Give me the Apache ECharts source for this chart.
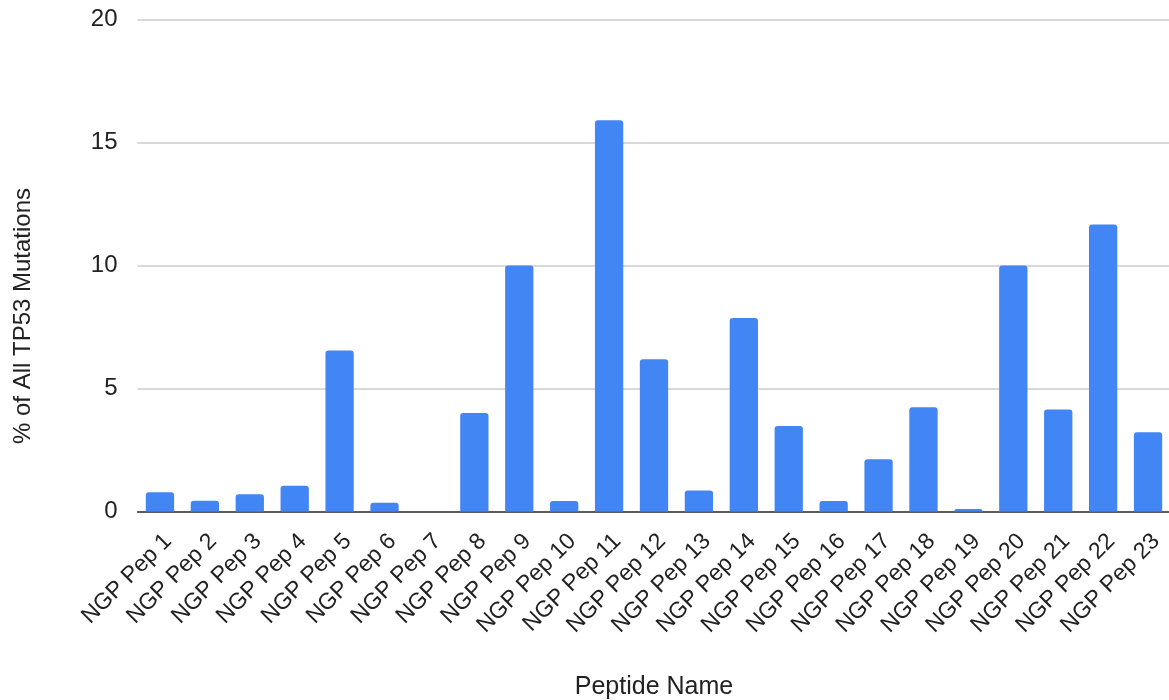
<!DOCTYPE html>
<html>
<head>
<meta charset="utf-8">
<script src="https://cdn.jsdelivr.net/npm/echarts@6/dist/echarts.min.js"></script>
<style>
  html, body { margin: 0; padding: 0; background: #fff; }
  #chart { width: 1169px; height: 700px; }
</style>
</head>
<body>
<div id="chart"></div>
<script>
// Peptide names along the x axis
const peptides = [
  'NGP Pep 1', 'NGP Pep 2', 'NGP Pep 3', 'NGP Pep 4', 'NGP Pep 5', 'NGP Pep 6',
  'NGP Pep 7', 'NGP Pep 8', 'NGP Pep 9', 'NGP Pep 10', 'NGP Pep 11', 'NGP Pep 12',
  'NGP Pep 13', 'NGP Pep 14', 'NGP Pep 15', 'NGP Pep 16', 'NGP Pep 17', 'NGP Pep 18',
  'NGP Pep 19', 'NGP Pep 20', 'NGP Pep 21', 'NGP Pep 22', 'NGP Pep 23'
];

// Share of all TP53 mutations covered by each peptide (%)
const mutationShare = [
  0.78, 0.44, 0.70, 1.05, 6.54, 0.36,
  0.0, 4.0, 10.0, 0.43, 15.9, 6.19,
  0.85, 7.87, 3.48, 0.43, 2.12, 4.24,
  0.1, 10.0, 4.15, 11.67, 3.22
];

// Value axis ticks
const yTicks = [0, 5, 10, 15, 20];

const FONT = '"Liberation Sans", Arial, sans-serif';
const TEXT = '#222';

const chart = echarts.init(document.getElementById('chart'), null, { renderer: 'canvas' });

chart.setOption({
  animation: false,
  backgroundColor: '#fff',
  grid: {
    left: 137.5, top: 19.5, width: 1033, height: 492,
    containLabel: false,
    outerBoundsMode: 'none'
  },
  xAxis: {
    type: 'category',
    data: peptides,
    name: 'Peptide Name',
    nameLocation: 'middle',
    nameGap: 163,
    nameTextStyle: { fontFamily: FONT, fontSize: 25, color: TEXT },
    axisLine: { show: true, lineStyle: { color: '#333', width: 1.5 } },
    axisTick: { show: false },
    axisLabel: {
      interval: 0,
      rotate: 45,
      margin: 18,
      align: 'right',
      verticalAlign: 'top',
      fontFamily: FONT,
      fontSize: 23,
      color: TEXT
    }
  },
  yAxis: {
    type: 'value',
    min: yTicks[0],
    max: yTicks[yTicks.length - 1],
    interval: yTicks[1] - yTicks[0],
    axisLine: { show: false },
    axisTick: { show: false },
    axisLabel: { margin: 20, fontFamily: FONT, fontSize: 24, color: TEXT },
    splitLine: { lineStyle: { color: '#cccccc', width: 1.5 } }
  },
  series: [{
    type: 'bar',
    data: mutationShare,
    barWidth: '63%',
    itemStyle: { color: '#4285F4', borderRadius: [3, 3, 0, 0] }
  }],
  graphic: [{
    type: 'text',
    x: 23,
    y: 316,
    rotation: Math.PI / 2,
    style: {
      text: '% of All TP53 Mutations',
      font: '24px ' + FONT,
      fill: TEXT,
      textAlign: 'center',
      textVerticalAlign: 'middle'
    }
  }]
});
</script>
</body>
</html>
